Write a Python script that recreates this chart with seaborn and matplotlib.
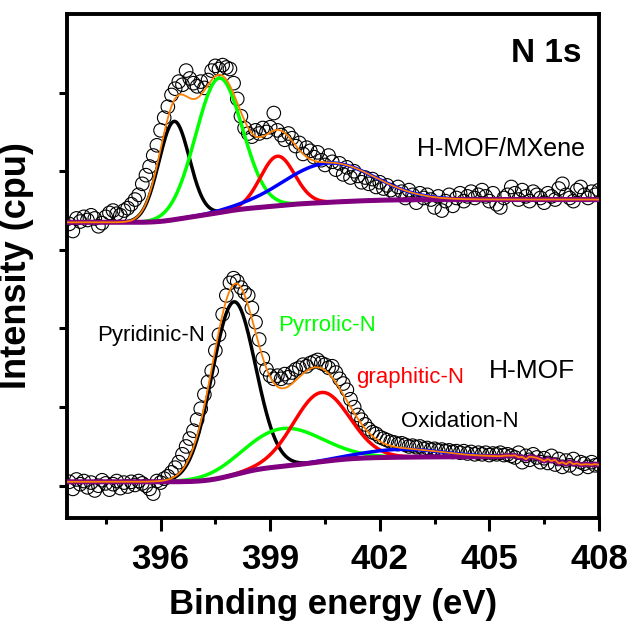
import numpy as np
import pandas as pd
import matplotlib
matplotlib.use("Agg")
import matplotlib.pyplot as plt
import seaborn as sns

sns.set_theme(style="ticks")
plt.rcParams['font.family'] = ['Liberation Sans', 'DejaVu Sans']
plt.rcParams['text.color'] = 'black'
plt.rcParams['axes.labelcolor'] = 'black'
plt.rcParams['xtick.color'] = 'black'
plt.rcParams['ytick.color'] = 'black'

# measured N 1s points, 0.1 eV steps
energy = np.round(np.arange(393.5, 408.01, 0.1), 2)

mxene_counts = [
    3.33, 3.24, 3.40, 3.36, 3.42, 3.38, 3.44, 3.40, 3.30, 3.34,
    3.42, 3.47, 3.50, 3.46, 3.44, 3.50, 3.53, 3.58, 3.64, 3.70,
    3.84, 3.95, 4.06, 4.20, 4.33, 4.52, 4.68, 4.82, 4.97, 5.05,
    5.14, 5.10, 5.28, 5.18, 5.12, 5.08, 5.14, 5.06, 5.16, 5.28,
    5.34, 5.30, 5.35, 5.32, 5.30, 5.12, 4.92, 4.70, 4.55, 4.48,
    4.44, 4.52, 4.48, 4.55, 4.50, 4.56, 4.74, 4.52, 4.46, 4.40,
    4.48, 4.42, 4.32, 4.36, 4.22, 4.30, 4.26, 4.18, 4.24, 4.14,
    4.08, 4.20, 4.12, 4.02, 4.10, 3.96, 4.05, 3.92, 4.00, 3.94,
    3.86, 3.92, 3.84, 3.90, 3.80, 3.86, 3.78, 3.82, 3.76, 3.72,
    3.80, 3.74, 3.66, 3.76, 3.70, 3.60, 3.72, 3.66, 3.70, 3.64,
    3.54, 3.68, 3.50, 3.62, 3.70, 3.56, 3.66, 3.72, 3.62, 3.68,
    3.74, 3.66, 3.70, 3.76, 3.68, 3.62, 3.72, 3.58, 3.54, 3.66,
    3.70, 3.80, 3.72, 3.64, 3.76, 3.68, 3.62, 3.74, 3.70, 3.66,
    3.60, 3.72, 3.68, 3.64, 3.78, 3.84, 3.70, 3.66, 3.62, 3.76,
    3.80, 3.70, 3.66, 3.74, 3.70, 3.76,
]

mof_counts = [
    0.05, -0.04, 0.08, 0.02, 0.06, -0.02, 0.04, -0.06, 0.00, 0.07,
    0.03, -0.05, 0.02, 0.06, -0.03, 0.04, -0.01, 0.05, 0.01, 0.06,
    0.03, 0.00, -0.04, -0.10, 0.06, 0.04, 0.09, 0.12, 0.17, 0.23,
    0.30, 0.40, 0.50, 0.60, 0.70, 0.84, 0.98, 1.16, 1.32, 1.46,
    1.72, 1.92, 2.18, 2.42, 2.58, 2.64, 2.60, 2.52, 2.46, 2.42,
    2.26, 2.08, 1.86, 1.62, 1.48, 1.40, 1.36, 1.40, 1.36, 1.42,
    1.38, 1.44, 1.48, 1.50, 1.54, 1.52, 1.56, 1.58, 1.60, 1.56,
    1.54, 1.50, 1.52, 1.44, 1.36, 1.30, 1.22, 1.10, 1.00, 0.90,
    0.84, 0.78, 0.72, 0.68, 0.66, 0.62, 0.60, 0.58, 0.56, 0.55,
    0.53, 0.54, 0.52, 0.50, 0.51, 0.49, 0.50, 0.47, 0.48, 0.46,
    0.47, 0.45, 0.46, 0.44, 0.45, 0.43, 0.44, 0.42, 0.44, 0.41,
    0.43, 0.40, 0.42, 0.40, 0.42, 0.39, 0.41, 0.40, 0.42, 0.39,
    0.40, 0.38, 0.36, 0.42, 0.30, 0.38, 0.33, 0.40, 0.36, 0.30,
    0.35, 0.29, 0.38, 0.27, 0.34, 0.24, 0.32, 0.26, 0.34, 0.22,
    0.30, 0.28, 0.24, 0.30, 0.26, 0.27,
]

# fitted peaks: centre (eV), height above background, FWHM (eV)
comp_colors = ["black", "#00ff00", "#ff0000", "#0000ff"]
mxene_centre = [396.37, 397.6, 399.2, 400.6]
mxene_height = [1.25, 1.71, 0.63, 0.50]
mxene_fwhm = [0.98, 1.5, 1.1, 2.9]
mxene_bg = [3.35, 3.64]

mof_centre = [398.0, 399.35, 400.4, 402.6]
mof_height = [2.2, 0.48, 0.88, 0.10]
mof_fwhm = [1.4, 2.5, 1.8, 2.6]
mof_bg = [0.05, 0.37]

xf = np.linspace(393.44, 408.0, 700)


def fit_curves(centre, height, fwhm, bg):
    peaks = []
    for c, h, w in zip(centre, height, fwhm):
        s = w / 2.3548
        peaks.append(h * np.exp(-(xf - c) ** 2 / (2 * s * s)))
    total = np.sum(peaks, axis=0)
    # shirley-like step background
    frac = np.cumsum(total) / np.sum(total)
    back = bg[0] + (bg[1] - bg[0]) * frac
    return peaks, back


fig = plt.figure(figsize=(6.34, 6.30), dpi=100)
ax = fig.add_axes([0.1057, 0.1778, 0.839, 0.80])

for counts, centre, height, fwhm, bg, follow in [
        (mxene_counts, mxene_centre, mxene_height, mxene_fwhm, mxene_bg, False),
        (mof_counts, mof_centre, mof_height, mof_fwhm, mof_bg, True)]:
    sns.scatterplot(x=energy, y=counts, ax=ax, s=95, marker='o',
                    facecolors='none', edgecolor='black', linewidth=0.8,
                    zorder=2)
    peaks, back = fit_curves(centre, height, fwhm, bg)
    if follow:
        # past the fit window the baseline just tracks the data
        smooth = pd.Series(counts).rolling(3, center=True, min_periods=1).mean()
        w = np.clip((xf - 405.3) / 0.4, 0, 1)
        back = (1 - w) * back + w * np.interp(xf, energy, smooth)
    for p, col in zip(peaks, comp_colors):
        sns.lineplot(x=xf, y=back + p, ax=ax, color=col, lw=2.5,
                     estimator=None, sort=False, zorder=3)
    sns.lineplot(x=xf, y=back, ax=ax, color="#800080", lw=3.6,
                 estimator=None, sort=False, zorder=4)
    sns.lineplot(x=xf, y=back + np.sum(peaks, axis=0), ax=ax,
                 color="#ff8000", lw=1.3, estimator=None, sort=False, zorder=5)

ax.set_xlim(393.44, 408.0)
ax.set_ylim(-0.41, 6.0)
ax.set_xticks([396, 399, 402, 405, 408])
ax.set_xticks([394.5, 397.5, 400.5, 403.5, 406.5], minor=True)
ax.set_yticks([0, 1, 2, 3, 4, 5])
ax.set_yticklabels([])
for lab in ax.get_xticklabels():
    lab.set_fontweight('bold')
ax.tick_params(axis='x', which='major', direction='out', length=9, width=2.2,
               labelsize=25, pad=9, colors='black')
ax.tick_params(axis='x', which='minor', direction='out', length=4, width=2.2)
ax.tick_params(axis='y', direction='out', length=6, width=2.2)
for sp in ax.spines.values():
    sp.set_linewidth(2.8)
    sp.set_color('black')

ax.set_xlabel("Binding energy (eV)", fontsize=25, fontweight='bold', labelpad=9)
ax.set_ylabel("Intensity (cpu)", fontsize=26, fontweight='bold', labelpad=14)

ax.text(407.53, 5.39, "N 1s", fontsize=24, fontweight='bold', ha='right',
        va='baseline')
ax.text(407.62, 4.19, "H-MOF/MXene", fontsize=18, ha='right', va='baseline')
ax.text(394.26, 1.84, "Pyridinic-N", fontsize=16, color='black', va='baseline')
ax.text(399.21, 1.97, "Pyrrolic-N", fontsize=16, color='#00ff00', va='baseline')
ax.text(401.35, 1.31, "graphitic-N", fontsize=16, color='#ff0000', va='baseline')
ax.text(405.0, 1.37, "H-MOF", fontsize=19, va='baseline')
ax.text(402.59, 0.75, "Oxidation-N", fontsize=16, va='baseline')

fig.savefig("out.png", dpi=100)
